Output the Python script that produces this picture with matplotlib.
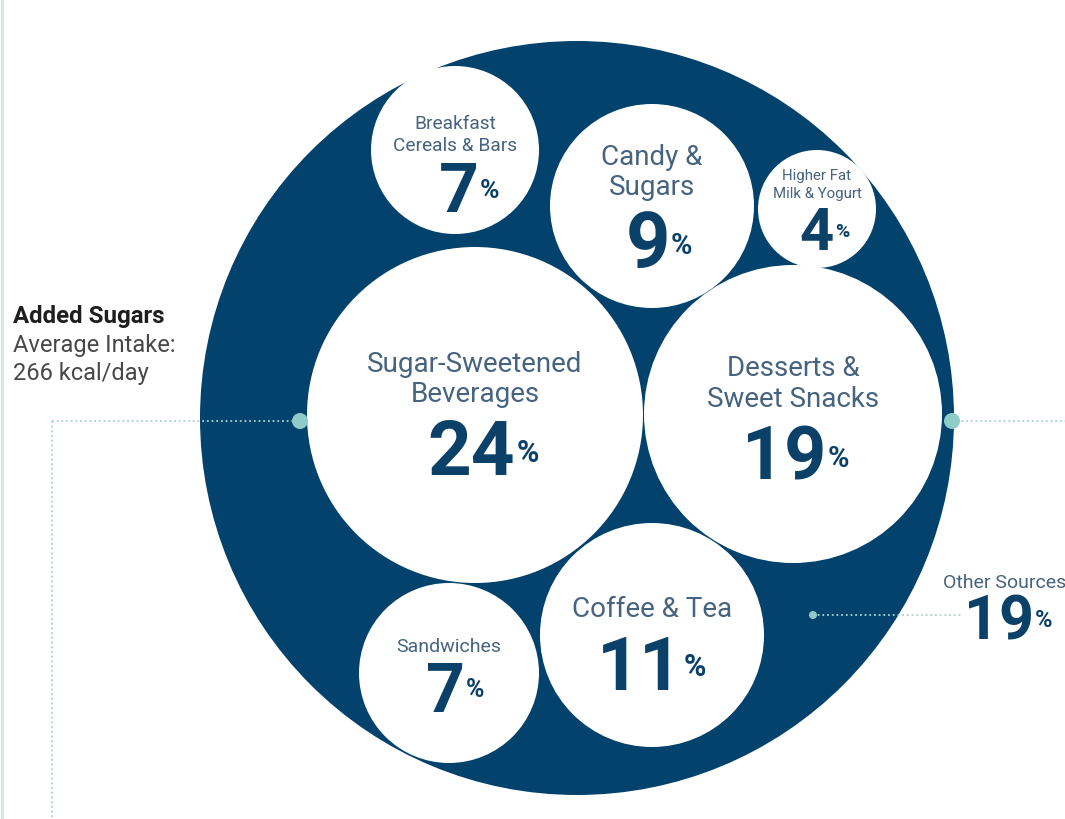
import matplotlib
matplotlib.use("Agg")
import matplotlib.pyplot as plt
from matplotlib.patches import Circle

# ---- data -------------------------------------------------------------
categories = [
    "Sugar-Sweetened\nBeverages",
    "Desserts &\nSweet Snacks",
    "Coffee & Tea",
    "Candy &\nSugars",
    "Breakfast\nCereals & Bars",
    "Sandwiches",
    "Higher Fat\nMilk & Yogurt",
]
shares = [24, 19, 11, 9, 7, 7, 4]          # percent of added-sugar intake
other_label = "Other Sources"
other_share = 19
title_bold = "Added Sugars"
title_lines = ["Average Intake:", "266 kcal/day"]

# ---- layout (pixel space, y grows downward) ---------------------------
W, H = 1065, 820
outer_c, outer_r = (577, 419), 377
centers = [(475, 416), (793, 415), (652, 636), (652, 207),
           (455, 151), (449, 674), (817, 210)]
radii = [168, 149, 112, 102, 84, 90, 59]
label_base = [[372, 402], [376, 407], [617], [165, 195],
              [129, 151], [652], [180, 198]]
label_size = [20, 20, 20, 20, 13.8, 14, 10.8]
num_base = [475, 480, 690, 268, 212, 712, 250]
num_right = [515, 826, 683, 670, 479, 465, 834]
num_size = [55, 53, 54, 56, 50, 49, 43]
pct_left = [517, 828, 684, 671, 480, 466, 835]
pct_mid = [450, 456, 664, 243, 188, 688, 230]
pct_size = [22, 21, 22, 21, 19, 18, 14]

NAVY = "#03426c"
NUM = "#0b4068"
LABEL = "#46637f"
TEAL = "#8fccc7"
DOT_LINE = "#a9d2d2"
FONT = "Roboto"

fig = plt.figure(figsize=(W / 100, H / 100), dpi=100)
ax = fig.add_axes([0, 0, 1, 1])
ax.set_xlim(0, W)
ax.set_ylim(H, 0)
ax.axis("off")

# faint page edge on the left
ax.plot([1.5, 1.5], [0, H], color="#d3e4ec", lw=2, zorder=0)

# outer container circle
ax.add_patch(Circle(outer_c, outer_r, facecolor=NAVY, edgecolor="none", zorder=1))

# leader lines
dot = dict(color=DOT_LINE, lw=1.3, linestyle=(0, (1, 1.6)), zorder=2)
ax.plot([52, 300], [422, 422], **dot)
ax.plot([52, 52], [422, H], **dot)
ax.plot([952, W], [422, 422], **dot)
ax.plot([813, 962], [616, 616], **dot)

for i, (cat, val) in enumerate(zip(categories, shares)):
    ax.add_patch(Circle(centers[i], radii[i], facecolor="white",
                        edgecolor="none", zorder=3))
    cx = centers[i][0]
    for line, yb in zip(cat.split("\n"), label_base[i]):
        ax.text(cx, yb, line, ha="center", va="baseline", color=LABEL,
                fontsize=label_size[i], family=FONT, weight="normal", zorder=4)
    ax.text(num_right[i], num_base[i], str(val), ha="right", va="baseline",
            color=NUM, fontsize=num_size[i], family=FONT, weight="bold", zorder=4)
    ax.text(pct_left[i], pct_mid[i], "%", ha="left", va="center_baseline",
            color=NUM, fontsize=pct_size[i], family=FONT, weight="bold", zorder=4)

# connector dots on the ring
ax.add_patch(Circle((300, 422), 8, facecolor=TEAL, edgecolor="none", zorder=5))
ax.add_patch(Circle((952, 422), 8, facecolor=TEAL, edgecolor="none", zorder=5))
ax.add_patch(Circle((813, 616), 4, facecolor=TEAL, edgecolor="none", zorder=5))

# remaining share outside the ring
ax.text(943, 588, other_label, ha="left", va="baseline", color=LABEL,
        fontsize=14, family=FONT, weight="normal", zorder=4)
ax.text(1034, 640, str(other_share), ha="right", va="baseline", color=NUM,
        fontsize=44, family=FONT, weight="bold", zorder=4)
ax.text(1035, 618, "%", ha="left", va="center_baseline", color=NUM,
        fontsize=17, family=FONT, weight="bold", zorder=4)

# headline on the left
ax.text(13, 323, title_bold, ha="left", va="baseline", color="#1e1e1e",
        fontsize=17.3, family=FONT, weight="bold")
for line, yb in zip(title_lines, [352, 380]):
    ax.text(13, yb, line, ha="left", va="baseline", color="#484848",
            fontsize=17, family=FONT, weight="normal")

fig.savefig("out.png", dpi=100, facecolor="white")
